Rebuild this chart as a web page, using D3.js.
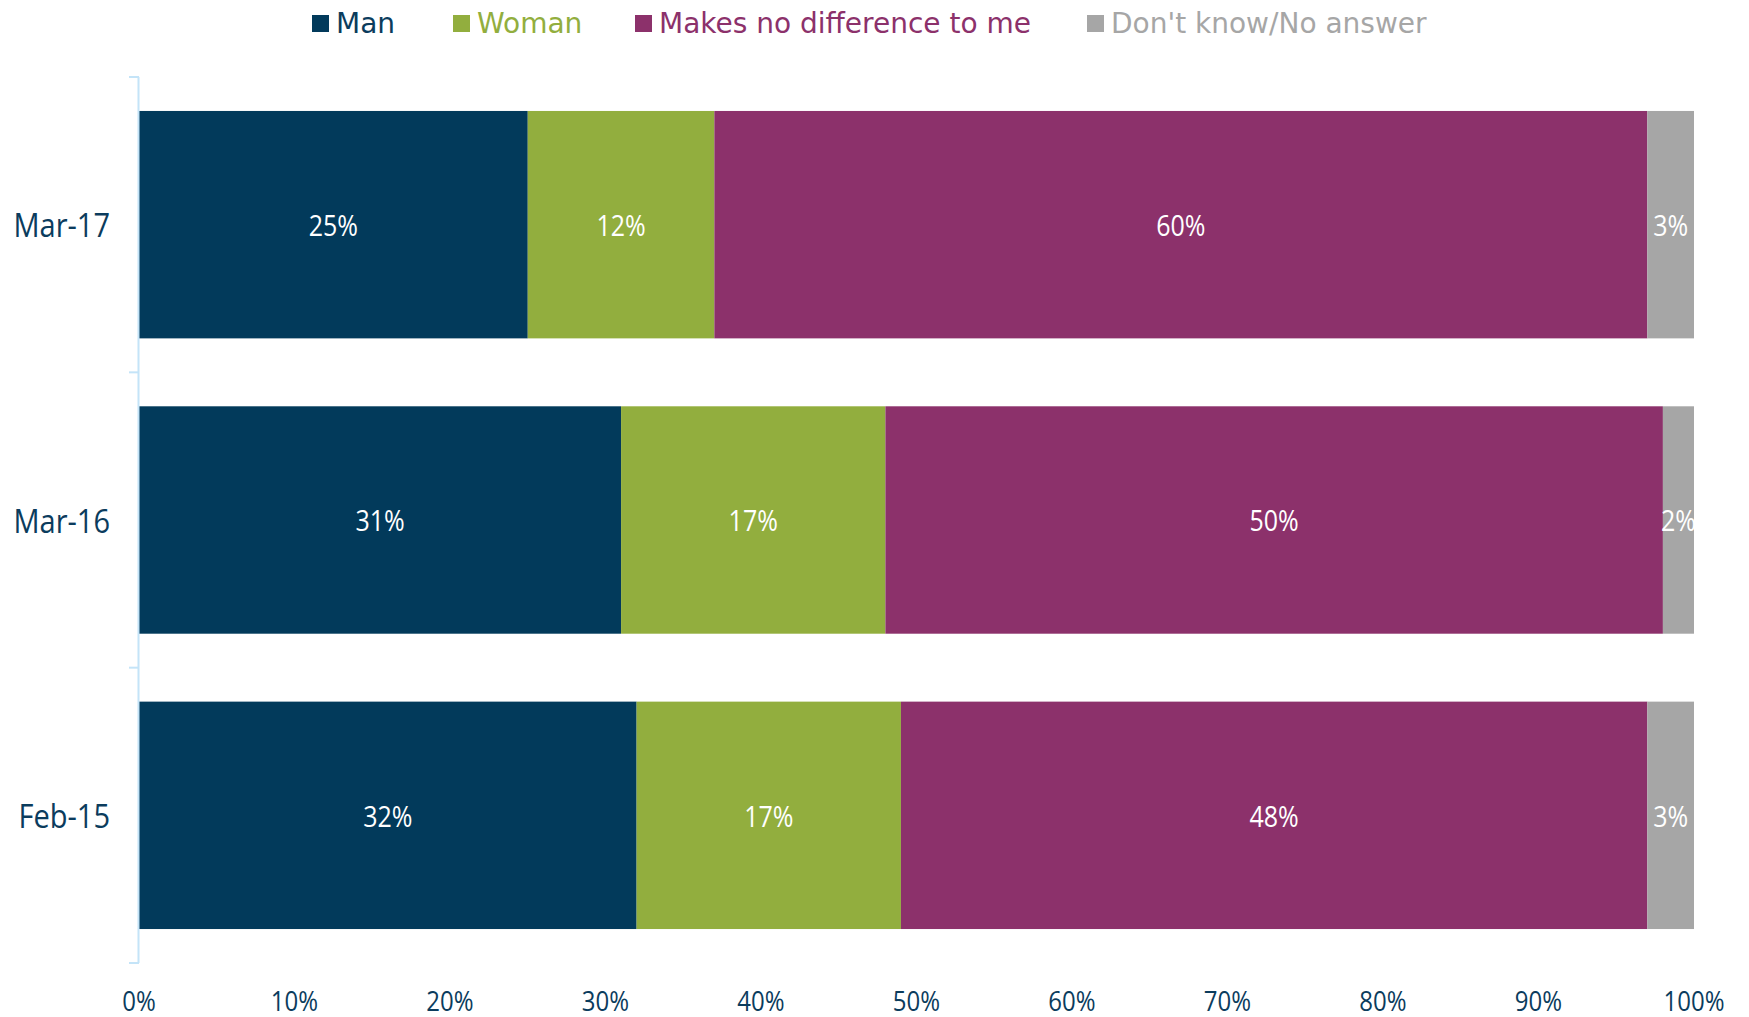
<!DOCTYPE html>
<html>
<head>
<meta charset="utf-8">
<script src="https://cdn.jsdelivr.net/npm/d3@7"></script>
<style>
  body { margin: 0; background: #fff; }
  text { font-family: "Open Sans", "Noto Sans", sans-serif; }
</style>
</head>
<body>
<div id="plot"></div>
<script>
// data
const categories = ["Mar-17", "Mar-16", "Feb-15"];
const seriesNames = ["Man", "Woman", "Makes no difference to me", "Don't know/No answer"];
const man = [25, 31, 32];
const woman = [12, 17, 17];
const noDiff = [60, 50, 48];
const dontKnow = [3, 2, 3];
const xTicks = [0, 10, 20, 30, 40, 50, 60, 70, 80, 90, 100];

const colors = ["#023a5b", "#92ae3e", "#8c316b", "#a6a6a6"];
const labelColor = "#0b3c5d";

const width = 1749, height = 1017;
const margin = {top: 77, right: 55, bottom: 54, left: 139};

const rows = categories.map(function(c, i) {
  return {cat: c, "Man": man[i], "Woman": woman[i],
    "Makes no difference to me": noDiff[i], "Don't know/No answer": dontKnow[i]};
});

const svg = d3.select("#plot").append("svg")
  .attr("width", width)
  .attr("height", height);

const x = d3.scaleLinear().domain([0, 100]).range([margin.left, width - margin.right]);
const y = d3.scaleBand().domain(categories).range([margin.top, height - margin.bottom]).paddingInner(0.23).paddingOuter(0.115);
const color = d3.scaleOrdinal().domain(seriesNames).range(colors);

const stack = d3.stack().keys(seriesNames);
const layers = stack(rows);

// bars
const g = svg.append("g");
layers.forEach(function(layer) {
  g.selectAll(null)
    .data(layer)
    .join("rect")
    .attr("x", d => x(d[0]))
    .attr("y", d => y(d.data.cat))
    .attr("width", d => x(d[1]) - x(d[0]))
    .attr("height", y.bandwidth())
    .attr("fill", color(layer.key));
});

// value labels (a bit stretched, like the source)
layers.forEach(function(layer) {
  g.selectAll(null)
    .data(layer)
    .join("text")
    .attr("transform", d => `translate(${x((d[0] + d[1]) / 2)},${y(d.data.cat) + y.bandwidth() / 2}) scale(1,1.18)`)
    .attr("text-anchor", "middle")
    .attr("dominant-baseline", "central")
    .attr("fill", "#fff")
    .style("font-size", "25px")
    .text(d => (d[1] - d[0]) + "%");
});

// y axis line with boundary ticks
const axisColor = "#c4e4f8";
const yTop = margin.top, yBot = height - margin.bottom;
svg.append("line")
  .attr("x1", margin.left - 0.5).attr("x2", margin.left - 0.5)
  .attr("y1", yTop).attr("y2", yBot)
  .attr("stroke", axisColor).attr("stroke-width", 2);
const bounds = d3.range(categories.length + 1).map(i => yTop + i * (yBot - yTop) / categories.length);
svg.selectAll(".ytick")
  .data(bounds)
  .join("line")
  .attr("class", "ytick")
  .attr("x1", margin.left - 10).attr("x2", margin.left)
  .attr("y1", d => d).attr("y2", d => d)
  .attr("stroke", axisColor).attr("stroke-width", 2);

// category labels
svg.selectAll(".cat")
  .data(categories)
  .join("text")
  .attr("class", "cat")
  .attr("transform", d => `translate(110,${y(d) + y.bandwidth() / 2}) scale(1,1.1)`)
  .attr("text-anchor", "end")
  .attr("dominant-baseline", "central")
  .attr("fill", labelColor)
  .style("font-size", "29px")
  .text(d => d);

// x tick labels
svg.selectAll(".xt")
  .data(xTicks)
  .join("text")
  .attr("class", "xt")
  .attr("transform", d => `translate(${x(d)},1000) scale(1,1.12)`)
  .attr("text-anchor", "middle")
  .attr("dominant-baseline", "central")
  .attr("fill", labelColor)
  .style("font-size", "24px")
  .text(d => d + "%");

// legend
const legendX = [312, 453, 635, 1087];
const legendTextColors = ["#0b3c5d", "#92ae3e", "#8c316b", "#a6a6a6"];
const legend = svg.selectAll(".leg")
  .data(seriesNames)
  .join("g")
  .attr("class", "leg")
  .attr("transform", (d, i) => `translate(${legendX[i]},15)`);
legend.append("rect")
  .attr("width", 17).attr("height", 17)
  .attr("fill", d => color(d));
legend.append("text")
  .attr("x", 24).attr("y", 18)
  .attr("fill", (d, i) => legendTextColors[i])
  .style("font-family", "'DejaVu Sans', sans-serif")
  .style("font-size", "28px")
  .text(d => d);
</script>
</body>
</html>
